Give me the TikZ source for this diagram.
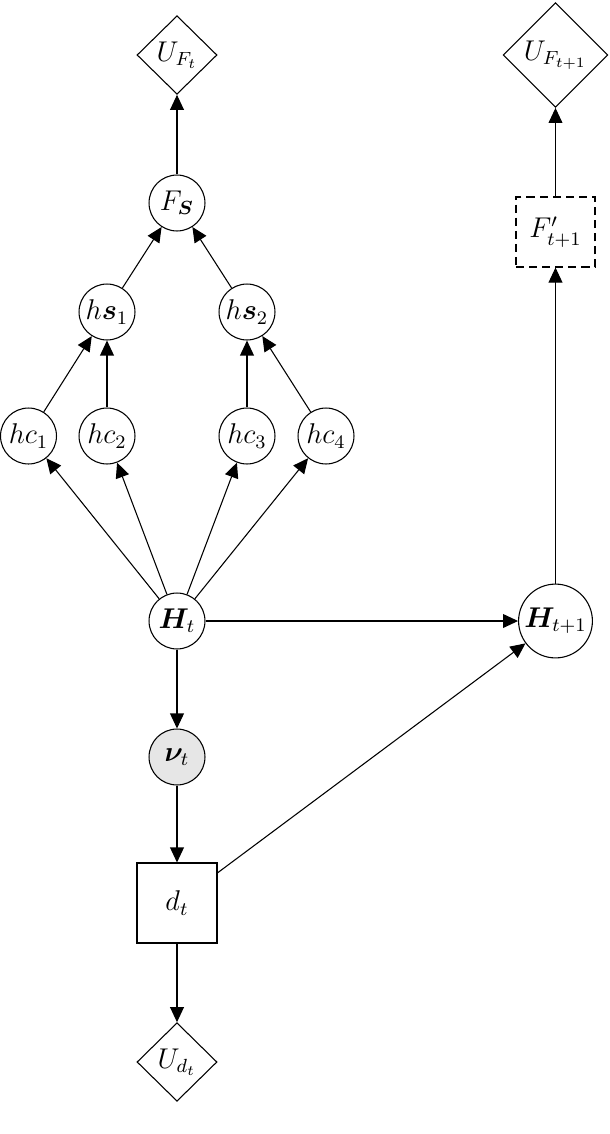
\documentclass[tikz,border=0pt]{standalone}
\usepackage{amsmath,bm}
\usetikzlibrary{shapes.geometric,arrows.meta}
\begin{document}
\begin{tikzpicture}[x=0.42pt,y=-0.42pt,
  every node/.style={font=\fontsize{12}{14}\selectfont},
  every path/.style={line width=0.45pt},
  chance/.style={circle,draw,minimum size=23.5pt,inner sep=1pt},
  bigchance/.style={circle,draw,minimum size=31pt,inner sep=1pt},
  observed/.style={chance,fill={rgb,255:red,230;green,230;blue,230}},
  utility/.style={diamond,draw,minimum width=33.6pt,minimum height=33pt,inner sep=0.5pt},
  bigutility/.style={diamond,draw,minimum width=44pt,minimum height=44pt,inner sep=0.5pt},
  decision/.style={rectangle,draw,minimum width=33.6pt,minimum height=33.6pt},
  future/.style={rectangle,draw,dash pattern=on 3.4pt off 2.1pt,minimum width=33.2pt,minimum height=29.4pt},
  arr/.style={-{Triangle[length=6.3pt,width=5.8pt]}}
]
\useasboundingbox (0,0) rectangle (610,1134);

\node[utility] (UF) at (177,55) {$U_{F_t}$};
\node[chance] (FS) at (177,203) {$F_{\boldsymbol{S}}$};
\node[chance] (hs1) at (107,312) {$h\boldsymbol{s}_1$};
\node[chance] (hs2) at (247,312) {$h\boldsymbol{s}_2$};
\node[chance] (hc1) at (28.5,436) {$hc_1$};
\node[chance] (hc2) at (107,436) {$hc_2$};
\node[chance] (hc3) at (247,436) {$hc_3$};
\node[chance] (hc4) at (326,436) {$hc_4$};
\node[chance] (Ht) at (177,621) {$\boldsymbol{H}_t$};
\node[observed] (nu) at (177,757) {$\boldsymbol{\nu}_t$};
\node[decision] (dt) at (177,903) {$d_t$};
\node[utility] (Ud) at (177,1062) {$U_{d_t}$};
\node[bigchance] (Ht1) at (555.5,621) {$\boldsymbol{H}_{t+1}$};
\node[future] (Fp) at (555.5,232) {$F'_{t+1}$};
\node[bigutility] (UF1) at (555.5,55) {$U_{F_{t+1}}$};

\draw[arr] (FS) -- (UF);
\draw[arr] (hs1) -- (FS);
\draw[arr] (hs2) -- (FS);
\draw[arr] (hc1) -- (hs1);
\draw[arr] (hc2) -- (hs1);
\draw[arr] (hc3) -- (hs2);
\draw[arr] (hc4) -- (hs2);
\draw[arr] (Ht) -- (hc1);
\draw[arr] (Ht) -- (hc2);
\draw[arr] (Ht) -- (hc3);
\draw[arr] (Ht) -- (hc4);
\draw[arr] (Ht) -- (Ht1);
\draw[arr] (Ht) -- (nu);
\draw[arr] (nu) -- (dt);
\draw[arr] (dt) -- (Ud);
\draw[arr] (dt) -- (Ht1);
\draw[arr] (Ht1) -- (Fp);
\draw[arr] (Fp) -- (UF1);
\end{tikzpicture}
\end{document}
